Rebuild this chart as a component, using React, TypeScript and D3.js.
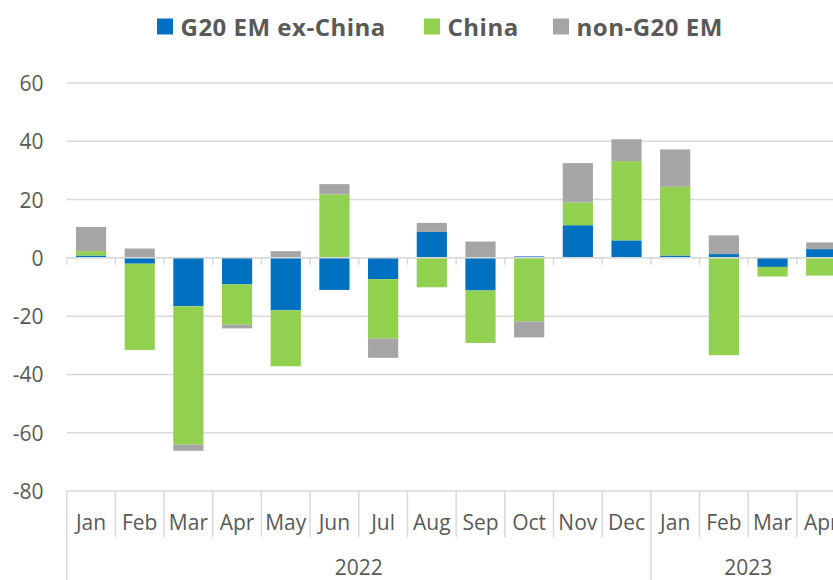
import * as d3 from 'd3';

const months = ['Jan','Feb','Mar','Apr','May','Jun','Jul','Aug','Sep','Oct','Nov','Dec','Jan','Feb','Mar','Apr'];
const years = [{ label:'2022', count:12 }, { label:'2023', count:4 }];

const g20ExChina = [0.8, -2.0, -16.6, -9.1, -18.0, -11.0, -7.3, 8.9, -11.2, 0.5, 11.2, 6.0, 0.8, 1.3, -3.1, 3.0];
const china      = [1.5, -29.6, -47.5, -13.8, -19.2, 21.8, -20.4, -10.1, -18.0, -21.8, 7.8, 27.2, 23.6, -33.4, -3.3, -6.1];
const nonG20     = [8.3, 3.2, -2.1, -1.3, 2.3, 3.5, -6.6, 3.1, 5.6, -5.5, 13.5, 7.5, 12.8, 6.4, 0, 2.3];

const yTicks = [60, 40, 20, 0, -20, -40, -60, -80];

const series = [
	{ key:'g20', name:'G20 EM ex-China', color:'#0070C0', values:g20ExChina },
	{ key:'china', name:'China', color:'#92D050', values:china },
	{ key:'non', name:'non-G20 EM', color:'#A5A5A5', values:nonG20 },
];

const W = 833, H = 580;
const left = 66.7, step = 48.68;
const top = 83, bottom = 491;
const textColor = '#595959';
const gridColor = '#d9d9d9';
const font = "'Open Sans', sans-serif";

export default function App() {
	const rows = months.map((m, i) => {
		const r: any = { idx:i };
		series.forEach(s => { r[s.key] = s.values[i]; });
		return r;
	});

	const stacked = d3.stack()
		.keys(series.map(s => s.key))
		.offset(d3.stackOffsetDiverging)(rows);

	const x = d3.scaleBand<number>()
		.domain(months.map((_, i) => i))
		.range([left, left + step*months.length])
		.paddingInner(0.38)
		.paddingOuter(0.19);

	const y = d3.scaleLinear().domain([-80, 60]).range([bottom, top]);

	const bounds = d3.range(months.length + 1).map(i => left + i*step);

	let yearStart = 0;
	const yearCells = years.map(yr => {
		const x0 = left + yearStart*step;
		yearStart += yr.count;
		return { ...yr, x0, x1: left + yearStart*step };
	});

	const legendX = [157, 424, 553];

	return (
		<svg width={W} height={H} style={{ position:'absolute', left:0, top:0, background:'#fff' }}>
			{/* legend */}
			{series.map((s, i) => (
				<g key={s.key} transform={`translate(${legendX[i]},18.5)`}>
					<rect width={16} height={16} fill={s.color} />
					<text x={23.5} y={17.5} fill={textColor} fontFamily={font} fontWeight={700} fontSize={24} letterSpacing={0.5}>{s.name}</text>
				</g>
			))}

			{/* gridlines */}
			{yTicks.map(t => (
				<g key={t}>
					<line x1={left} x2={W} y1={y(t)} y2={y(t)} stroke={gridColor} strokeWidth={1.5} />
					<text x={43.5} y={y(t)+8} textAnchor='end' fill={textColor} fontFamily={font} fontSize={21}>{t}</text>
				</g>
			))}

			{/* bars */}
			{stacked.map((layer, li) => (
				<g key={layer.key} fill={series[li].color}>
					{layer.map((d, i) => {
						const y0 = y(Math.max(d[0], d[1])), y1 = y(Math.min(d[0], d[1]));
						if (y1 - y0 <= 0) return null;
						return <rect key={i} x={x(i)} width={x.bandwidth()} y={y0} height={y1 - y0} />;
					})}
				</g>
			))}

			{/* zero axis with ticks */}
			<line x1={left} x2={W} y1={y(0)} y2={y(0)} stroke={gridColor} strokeWidth={1.5} />
			{bounds.map((bx, i) => (
				<line key={i} x1={bx} x2={bx} y1={y(0)} y2={y(0)+7} stroke={gridColor} strokeWidth={1.5} />
			))}

			{/* category table */}
			{bounds.map((bx, i) => (
				<line key={i} x1={bx} x2={bx} y1={bottom} y2={i % 12 === 0 || i === months.length ? H : 537} stroke={gridColor} strokeWidth={1.5} />
			))}
			{months.map((m, i) => (
				<text key={i} x={x(i)! + x.bandwidth()/2} y={529.5} textAnchor='middle' fill={textColor} fontFamily={font} fontSize={21}>{m}</text>
			))}
			{yearCells.map(yr => (
				<text key={yr.label} x={(yr.x0 + yr.x1)/2} y={575} textAnchor='middle' fill={textColor} fontFamily={font} fontSize={21}>{yr.label}</text>
			))}
		</svg>
	);
}
